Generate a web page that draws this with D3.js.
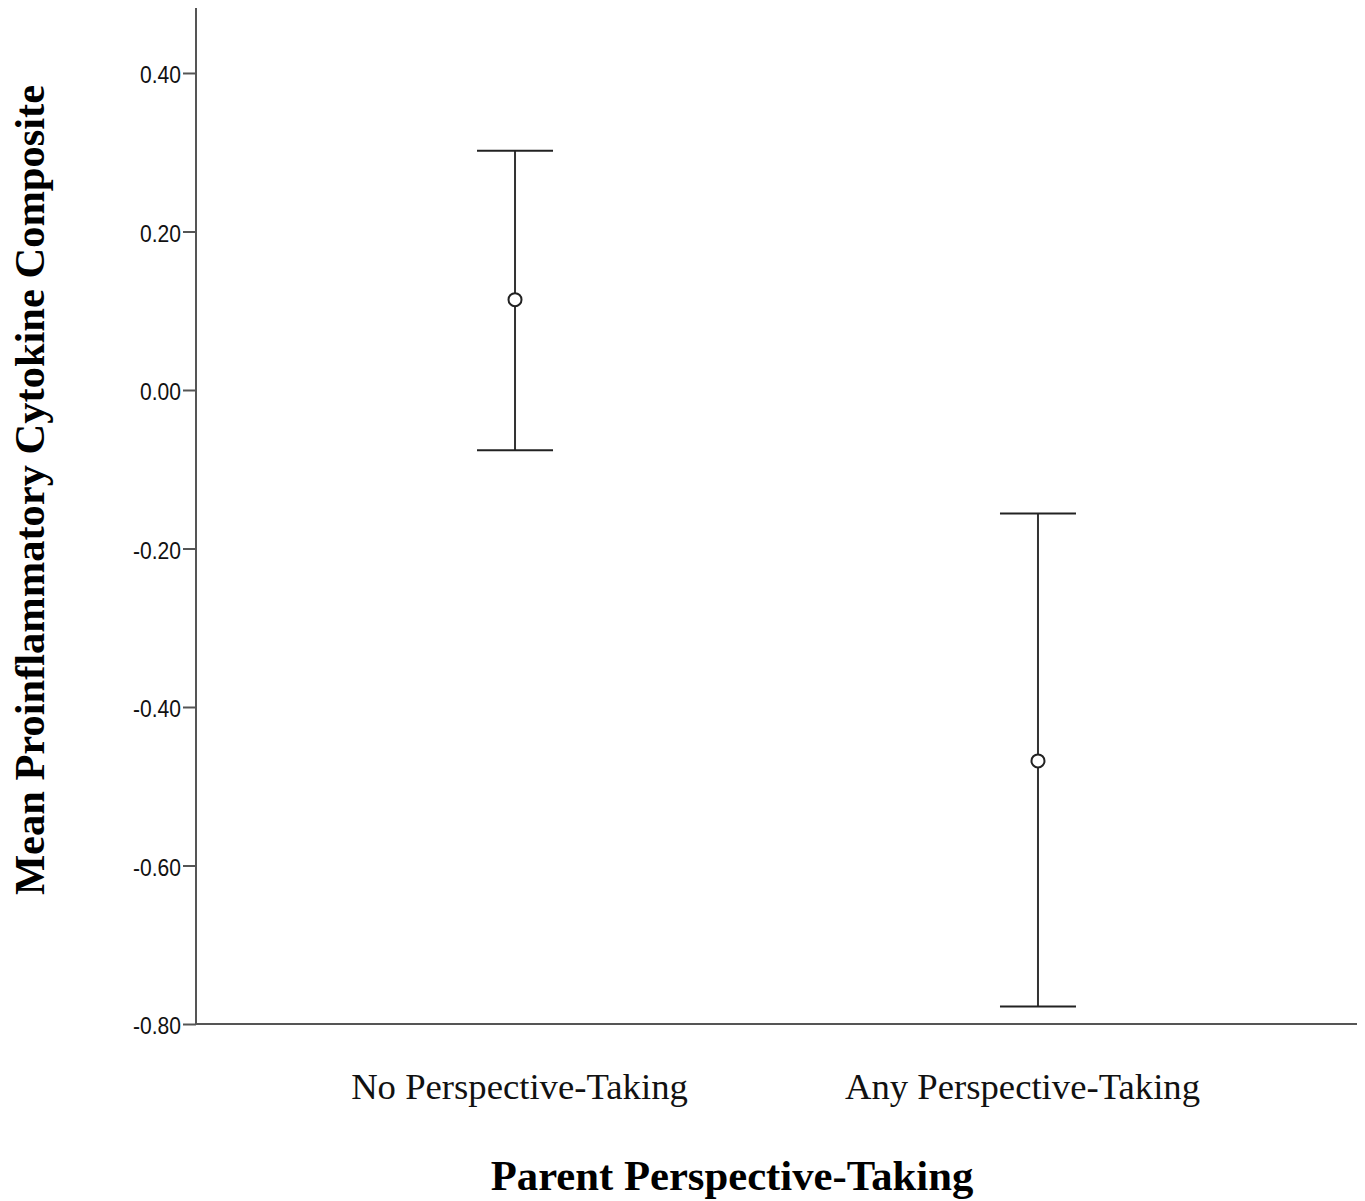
<!DOCTYPE html>
<html>
<head>
<meta charset="utf-8">
<script src="https://cdn.jsdelivr.net/npm/d3@7"></script>
<style>
  html, body { margin: 0; padding: 0; background: #fff; }
  svg { display: block; }
</style>
</head>
<body>
<svg id="chart" width="1365" height="1201"></svg>
<script>
const categories = ["No Perspective-Taking", "Any Perspective-Taking"];
const means = [0.114, -0.468];
const upper = [0.302, -0.156];
const lower = [-0.076, -0.778];
const tickValues = [-0.8, -0.6, -0.4, -0.2, 0.0, 0.2, 0.4];
const tickLabels = ["-0.80", "-0.60", "-0.40", "-0.20", "0.00", "0.20", "0.40"];
const yTitle = "Mean Proinflammatory Cytokine Composite";
const xTitle = "Parent Perspective-Taking";

(function () {
const svg = d3.select("#chart");
const mLeft = 196, mRight = 1357, mTop = 8, mBottom = 1024;

const y = d3.scaleLinear().domain([-0.8, 0.482]).range([mBottom, mTop]);
const x = d3.scalePoint().domain(categories).range([mLeft, mRight]).padding(0.61);
const xLabel = d3.scalePoint().domain(categories).range([mLeft - 5.5, mRight - 5.5]).padding(0.654);

// Y axis
const yAxis = d3.axisLeft(y).tickValues(tickValues).tickSize(13).tickPadding(2)
  .tickFormat((d, i) => tickLabels[i]);
const gy = svg.append("g").attr("transform", `translate(${mLeft},0)`).call(yAxis);
gy.select(".domain").remove();
gy.selectAll(".tick line").attr("stroke", "#555").attr("stroke-width", 2);
gy.selectAll(".tick text")
  .attr("x", 0)
  .attr("transform", "translate(-15,1) scale(0.86,1)")
  .attr("font-family", "Liberation Sans, Arial, sans-serif")
  .attr("font-size", 24.5).attr("fill", "#111").attr("dy", "0.36em");
svg.append("line").attr("x1", mLeft).attr("x2", mLeft).attr("y1", mTop).attr("y2", mBottom)
  .attr("stroke", "#555").attr("stroke-width", 2);

// X axis line
svg.append("line").attr("x1", mLeft).attr("x2", mRight).attr("y1", mBottom).attr("y2", mBottom)
  .attr("stroke", "#555").attr("stroke-width", 2);

// Category labels
svg.append("g").selectAll("text").data(categories).join("text")
  .attr("x", d => xLabel(d)).attr("y", 1099)
  .attr("text-anchor", "middle")
  .attr("font-family", "Liberation Serif, Times New Roman, serif")
  .attr("font-size", 36.7).attr("fill", "#111")
  .text(d => d);

// Error bars
const capHalf = 38;
const g = svg.append("g");
categories.forEach((c, i) => {
  const cx = x(c);
  g.append("line").attr("x1", cx).attr("x2", cx).attr("y1", y(upper[i])).attr("y2", y(lower[i]))
    .attr("stroke", "#333").attr("stroke-width", 2);
  g.append("line").attr("x1", cx - capHalf).attr("x2", cx + capHalf).attr("y1", y(upper[i])).attr("y2", y(upper[i]))
    .attr("stroke", "#222").attr("stroke-width", 2);
  g.append("line").attr("x1", cx - capHalf).attr("x2", cx + capHalf).attr("y1", y(lower[i])).attr("y2", y(lower[i]))
    .attr("stroke", "#222").attr("stroke-width", 2);
  g.append("circle").attr("cx", cx).attr("cy", y(means[i])).attr("r", 6.5)
    .attr("fill", "#fff").attr("stroke", "#222").attr("stroke-width", 2);
});

// Titles
svg.append("text")
  .attr("transform", `translate(44,490) rotate(-90)`)
  .attr("text-anchor", "middle")
  .attr("font-family", "Liberation Serif, Times New Roman, serif")
  .attr("font-weight", "bold").attr("font-size", 42.5).attr("fill", "#000")
  .text(yTitle);
svg.append("text")
  .attr("x", 732).attr("y", 1190)
  .attr("text-anchor", "middle")
  .attr("font-family", "Liberation Serif, Times New Roman, serif")
  .attr("font-weight", "bold").attr("font-size", 42.7).attr("fill", "#000")
  .text(xTitle);
})();
</script>
</body>
</html>
